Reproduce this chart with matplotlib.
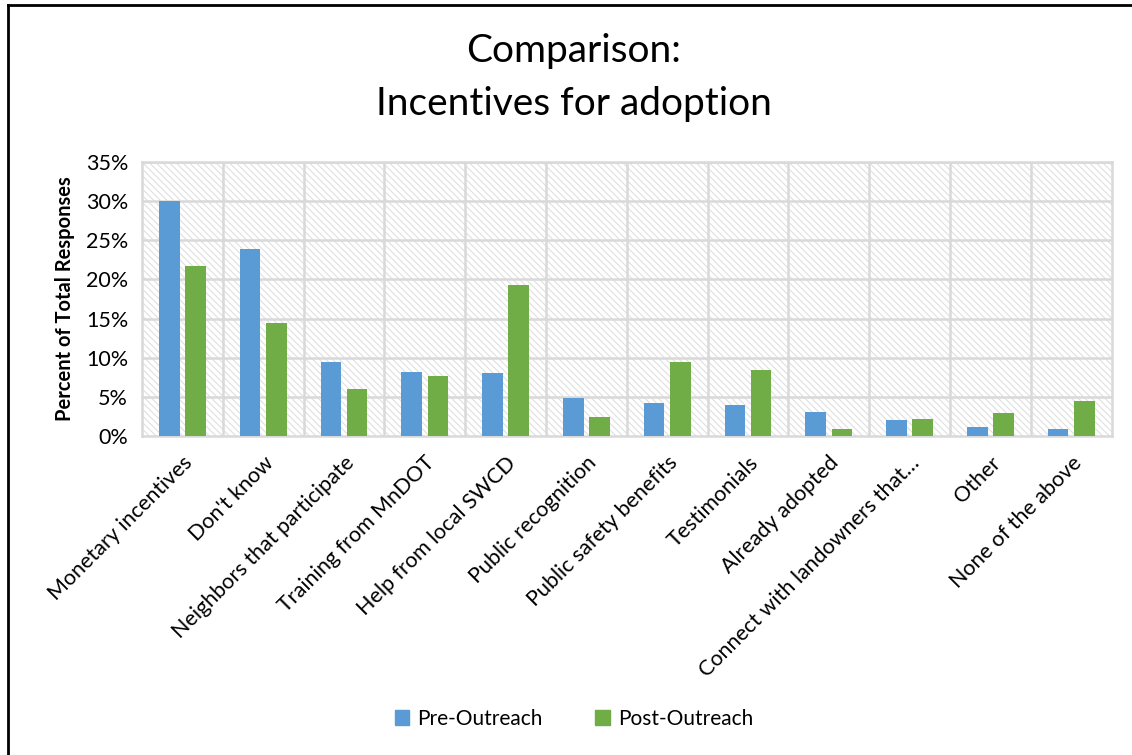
import numpy as np
import matplotlib.pyplot as plt
from matplotlib.patches import Rectangle, Patch
from matplotlib.lines import Line2D
from matplotlib.ticker import FuncFormatter

categories = ['Monetary incentives', "Don't know", 'Neighbors that participate',
              'Training from MnDOT', 'Help from local SWCD', 'Public recognition',
              'Public safety benefits', 'Testimonials', 'Already adopted',
              'Connect with landowners that…', 'Other', 'None of the above']
pre = [30.0, 23.9, 9.5, 8.2, 8.0, 4.9, 4.2, 4.0, 3.1, 2.1, 1.2, 0.9]
post = [21.7, 14.4, 6.0, 7.7, 19.3, 2.4, 9.4, 8.4, 0.9, 2.2, 2.9, 4.5]
series_names = ['Pre-Outreach', 'Post-Outreach']

blue = '#5b9bd5'
green = '#70ad47'
grid_c = '#d9d9d9'

plt.rcParams['font.family'] = ['Lato', 'DejaVu Sans']
plt.rcParams['hatch.linewidth'] = 0.8

fig = plt.figure(figsize=(11.32, 7.55), dpi=100)
ax = fig.add_axes([0.1254, 0.4225, 0.8566, 0.3629])

n = len(categories)
x = np.arange(n)
w = 0.255
gap = 0.07
ax.set_xlim(-0.5, n - 0.5)
ax.set_ylim(0, 35)

# hatched plot area background
ax.add_patch(Rectangle((-0.5, 0), n, 35, facecolor='white', edgecolor='#e0e0e0',
                       hatch='\\\\\\\\\\', linewidth=0, zorder=0))

ax.bar(x - w / 2 - gap / 2, pre, w, color=blue, zorder=3, label=series_names[0])
ax.bar(x + w / 2 + gap / 2, post, w, color=green, zorder=3, label=series_names[1])

for yv in np.arange(5, 36, 5):
    ax.axhline(yv, color=grid_c, lw=1.8, zorder=1)
for xv in np.arange(0.5, n - 0.5, 1):
    ax.axvline(xv, color=grid_c, lw=1.8, zorder=1)
for s in ax.spines.values():
    s.set_color(grid_c)
    s.set_linewidth(1.8)

ax.set_yticks(np.arange(0, 36, 5))
ax.yaxis.set_major_formatter(FuncFormatter(lambda v, p: '%d%%' % v))
ax.set_xticks(x)
ax.set_xticklabels(categories, rotation=45, ha='right', rotation_mode='anchor')
ax.tick_params(axis='both', length=0, labelsize=15.5, colors='black')
ax.tick_params(axis='x', pad=12)
ax.tick_params(axis='y', pad=10)
ax.set_ylabel('Percent of Total Responses', fontsize=14.5, fontweight='bold', labelpad=8)

fig.text(0.507, 0.932, 'Comparison:', ha='center', va='center', fontsize=28)
fig.text(0.507, 0.862, 'Incentives for adoption', ha='center', va='center', fontsize=28)

handles = [Patch(color=blue), Patch(color=green)]
fig.legend(handles, series_names, loc='center', bbox_to_anchor=(0.507, 0.048), ncol=2,
           frameon=False, fontsize=15, handlelength=0.7, handleheight=0.7,
           columnspacing=2.5, handletextpad=0.4)

# outer frame (top and left edges visible)
fig.add_artist(Line2D([8 / 1132, 1], [1 - 5 / 755, 1 - 5 / 755], color='black', lw=2,
                      transform=fig.transFigure))
fig.add_artist(Line2D([8 / 1132, 8 / 1132], [0, 1 - 5 / 755], color='black', lw=2,
                      transform=fig.transFigure))

fig.savefig('out.png', dpi=100)
